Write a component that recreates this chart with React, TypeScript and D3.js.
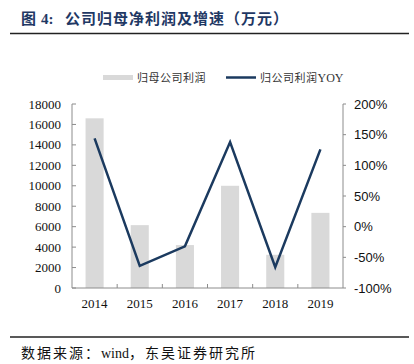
import React from "react";
import * as d3 from "d3";

const years = ["2014", "2015", "2016", "2017", "2018", "2019"];
const profit = [16600, 6150, 4200, 10000, 3250, 7350];
const yoy = [144, -64, -32, 138, -66, 126];
const leftTicks = [0, 2000, 4000, 6000, 8000, 10000, 12000, 14000, 16000, 18000];
const rightTicks = [-100, -50, 0, 50, 100, 150, 200];

const W = 414, H = 364;
const left = 72, right = 343, top = 104, bottom = 288;

export default function App() {
  const x = d3.scaleBand<string>().domain(years).range([left, right]).paddingInner(0).paddingOuter(0);
  const yL = d3.scaleLinear().domain([0, 18000]).range([bottom, top]);
  const yR = d3.scaleLinear().domain([-100, 200]).range([bottom, top]);
  const bw = x.bandwidth() * 0.4;
  const line = d3.line<number>().x((_, i) => x(years[i])! + x.bandwidth() / 2).y((d) => yR(d));
  const axisColor = "#8c8c8c";
  const serif = "'Liberation Serif', 'Times New Roman', serif";
  const sans = "'Liberation Sans', Arial, sans-serif";
  const cjk = "'Noto Sans CJK SC', sans-serif";
  return (
    <svg width={W} height={H} style={{ position: "absolute", left: 0, top: 0, background: "#fff" }}>
      <text x={21} y={24} fontFamily={cjk} fontWeight="bold" fontSize={15} fill="#1f3864">图</text>
      <text x={41} y={24} fontFamily={serif} fontWeight="bold" fontSize={15} fill="#1f3864">4:</text>
      <text x={65} y={24} fontFamily={cjk} fontWeight="bold" fontSize={15} letterSpacing={1} fill="#1f3864">公司归母净利润及增速（万元）</text>
      <line x1={10} x2={409} y1={33.5} y2={33.5} stroke="#222" strokeWidth={1.5} />
      {/* legend */}
      <rect x={103} y={75} width={30} height={5} fill="#d9d9d9" />
      <text x={137} y={81.5} fontFamily={cjk} fontSize={11} letterSpacing={0.5} fill="#333">归母公司利润</text>
      <line x1={226} x2={256} y1={77.5} y2={77.5} stroke="#1b3a5f" strokeWidth={2.5} />
      <text x={260} y={81.5} fontFamily={cjk} fontSize={11} letterSpacing={0.5} fill="#333">归公司利润<tspan fontFamily={serif} fontSize={12} letterSpacing={0}>YOY</tspan></text>
      {/* bars */}
      {profit.map((v, i) => (
        <rect key={i} x={x(years[i])! + (x.bandwidth() - bw) / 2} y={yL(v)} width={bw} height={bottom - yL(v)} fill="#d9d9d9" />
      ))}
      {/* axes */}
      <line x1={left} x2={left} y1={top} y2={bottom} stroke={axisColor} />
      <line x1={right} x2={right} y1={top} y2={bottom} stroke={axisColor} />
      <line x1={left} x2={right} y1={bottom} y2={bottom} stroke={axisColor} />
      {leftTicks.map((t) => (
        <g key={t}>
          <line x1={left} x2={left + 4} y1={yL(t)} y2={yL(t)} stroke={axisColor} />
          <text x={61} y={yL(t) + 4.5} textAnchor="end" fontFamily={serif} fontSize={13} fill="#111">{t}</text>
        </g>
      ))}
      {rightTicks.map((t) => (
        <g key={t}>
          <line x1={right} x2={right + 3} y1={yR(t)} y2={yR(t)} stroke={axisColor} />
          <text x={354} y={yR(t) + 4.5} textAnchor="start" fontFamily={sans} fontSize={13} fill="#111">{t}%</text>
        </g>
      ))}
      {years.map((yv, i) => (
        <g key={yv}>
          {i > 0 && <line x1={x(yv)!} x2={x(yv)!} y1={bottom - 4} y2={bottom} stroke={axisColor} />}
          <text x={x(yv)! + x.bandwidth() / 2} y={308} textAnchor="middle" fontFamily={serif} fontSize={13} fill="#111">{yv}</text>
        </g>
      ))}
      <path d={line(yoy)!} fill="none" stroke="#1b3a5f" strokeWidth={2.5} strokeLinejoin="miter" />
      <line x1={10} x2={409} y1={337} y2={337} stroke="#222" strokeWidth={1.5} />
      <text x={21} y={358} fontFamily={serif} fontSize={14} fill="#111"><tspan fontFamily={cjk} letterSpacing={2}>数据来源：</tspan>wind<tspan fontFamily={cjk} letterSpacing={2}>，东吴证券研究所</tspan></text>
    </svg>
  );
}
